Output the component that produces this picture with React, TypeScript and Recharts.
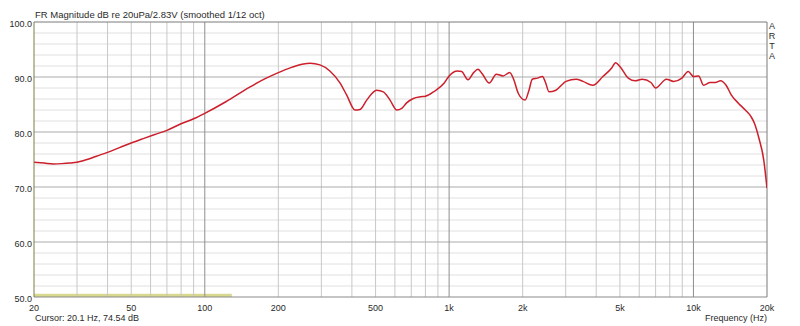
import React from "react";
import {
  ComposedChart,
  Line,
  XAxis,
  YAxis,
  ReferenceLine,
  ReferenceArea,
} from "recharts";

const freqs = [
  20, 22, 24, 26, 28, 30, 33, 36, 40, 45, 50, 56, 62, 70, 80, 90, 100, 122, 152, 175,
  200, 225, 250, 270, 296, 325, 358, 381, 412, 432, 460, 505, 538, 573, 611, 640, 670,
  714, 765, 800, 863, 955, 1000, 1082, 1125, 1195, 1260, 1312, 1370, 1460, 1560, 1662,
  1770, 1840, 1920, 2046, 2120, 2190, 2300, 2410, 2480, 2565, 2736, 3010, 3312, 3530,
  3876, 4260, 4620, 4800, 5000, 5410, 5780, 6170, 6700, 7000, 7750, 8300, 8970, 9520,
  10000, 10500, 11000, 11700, 12300, 12900, 13600, 14300, 15300, 16300, 17200, 17800,
  18500, 19400, 20000,
];

const levels = [
  74.5, 74.35, 74.2, 74.25, 74.35, 74.5, 75.0, 75.6, 76.3, 77.2, 78.0, 78.8, 79.5, 80.3,
  81.5, 82.4, 83.4, 85.5, 88.1, 89.6, 90.8, 91.7, 92.3, 92.5, 92.2, 91.1, 88.9, 86.7, 84.0,
  84.1, 85.8, 87.6, 87.3, 85.8, 84.0, 84.3, 85.3, 86.1, 86.4, 86.5, 87.3, 88.9, 90.2, 91.1,
  91.0, 89.5, 90.8, 91.4, 90.5, 88.9, 90.5, 90.2, 90.8, 89.5, 87.0, 85.8, 87.5, 89.6, 89.8,
  90.1, 89.0, 87.3, 87.6, 89.2, 89.6, 89.2, 88.5, 90.1, 91.6, 92.6, 91.9, 89.8, 89.3, 89.6,
  89.0, 88.0, 89.6, 89.2, 89.8, 91.0, 90.1, 90.2, 88.5, 89.0, 89.0, 89.3, 88.5, 86.7, 85.2,
  84.0, 82.8, 81.5, 79.0, 74.9, 69.8,
];

const xTickLabels = [20, 50, 100, 200, 500, 1000, 2000, 5000, 10000, 20000];
const yTickLabels = [50, 60, 70, 80, 90, 100];
const minorXGrid = [
  30, 40, 50, 60, 70, 80, 90, 200, 300, 400, 500, 600, 700, 800, 900, 2000, 3000, 4000,
  5000, 6000, 7000, 8000, 9000,
];
const majorXGrid = [100, 1000, 10000];
const minorYGrid = [
  52, 54, 56, 58, 62, 64, 66, 68, 72, 74, 76, 78, 82, 84, 86, 88, 92, 94, 96, 98,
];
const majorYGrid = [60, 70, 80, 90];

const cursorBandEnd = 129;

const title = "FR Magnitude dB re 20uPa/2.83V (smoothed 1/12 oct)";
const cursorText = "Cursor: 20.1 Hz, 74.54 dB";
const xTitle = "Frequency (Hz)";
const brand = ["A", "R", "T", "A"];

const data = freqs.map((f, i) => ({ f, db: levels[i] }));

const FONT = '"Liberation Sans", Arial, sans-serif';
const TEXT = "#2a2a2a";

const fmtX = (v: number) => (v >= 1000 ? `${v / 1000}k` : `${v}`);
const fmtY = (v: number) => v.toFixed(1);

export default function App() {
  return (
    <div
      style={{
        position: "absolute",
        left: 0,
        top: 0,
        width: 800,
        height: 326,
        background: "#ffffff",
        fontFamily: FONT,
        color: TEXT,
      }}
    >
      <ComposedChart
        width={800}
        height={326}
        data={data}
        margin={{ top: 22, right: 33, left: 0, bottom: 0 }}
      >
        <XAxis
          dataKey="f"
          type="number"
          scale="log"
          domain={[20, 20000]}
          allowDataOverflow
          ticks={xTickLabels}
          interval={0}
          tickFormatter={fmtX}
          height={29}
          tickLine={false}
          tickSize={3}
          tickMargin={5}
          axisLine={{ stroke: "#8a8a8a", strokeWidth: 1 }}
          tick={{ fontSize: 9, fill: TEXT, fontFamily: FONT }}
        />
        <YAxis
          type="number"
          domain={[50, 100]}
          allowDataOverflow
          ticks={yTickLabels}
          interval={0}
          tickFormatter={fmtY}
          width={34}
          tickLine={false}
          tickSize={0}
          tickMargin={2}
          axisLine={{ stroke: "#7d7d45", strokeWidth: 1 }}
          tick={{ fontSize: 9, fill: TEXT, fontFamily: FONT, dy: 1.5 }}
        />

        {minorYGrid.map((v) => (
          <ReferenceLine key={`my${v}`} y={v} stroke="#e0e0e0" strokeWidth={1} />
        ))}
        {minorXGrid.map((v) => (
          <ReferenceLine key={`mx${v}`} x={v} stroke="#c8c8c8" strokeWidth={1} />
        ))}
        {majorYGrid.map((v) => (
          <ReferenceLine key={`My${v}`} y={v} stroke="#ababab" strokeWidth={1} />
        ))}
        {majorXGrid.map((v) => (
          <ReferenceLine key={`Mx${v}`} x={v} stroke="#8e8e8e" strokeWidth={1} />
        ))}

        <ReferenceLine y={100} stroke="#7a7a7a" strokeWidth={1} />
        <ReferenceLine x={20000} stroke="#7a7a7a" strokeWidth={1} />
        <ReferenceArea x1={20} x2={cursorBandEnd} y1={50} y2={50.6} fill="#d8d88e" fillOpacity={1} stroke="none" />

        <Line
          dataKey="db"
          type="monotone"
          stroke="#cc1f2b"
          strokeWidth={1.5}
          dot={false}
          activeDot={false}
          isAnimationActive={false}
        />
      </ComposedChart>

      <div style={{ position: "absolute", left: 35, top: 9, fontSize: 9.5, whiteSpace: "nowrap", lineHeight: "11px" }}>
        {title}
      </div>
      <div style={{ position: "absolute", left: 35, top: 313, fontSize: 9, whiteSpace: "nowrap", lineHeight: "11px" }}>
        {cursorText}
      </div>
      <div style={{ position: "absolute", right: 33, top: 313, fontSize: 9, whiteSpace: "nowrap", lineHeight: "11px" }}>
        {xTitle}
      </div>
      <div style={{ position: "absolute", left: 767, top: 21, width: 10, textAlign: "center", fontSize: 9, lineHeight: "10px" }}>
        {brand.map((c, i) => (
          <div key={i}>{c}</div>
        ))}
      </div>
    </div>
  );
}
